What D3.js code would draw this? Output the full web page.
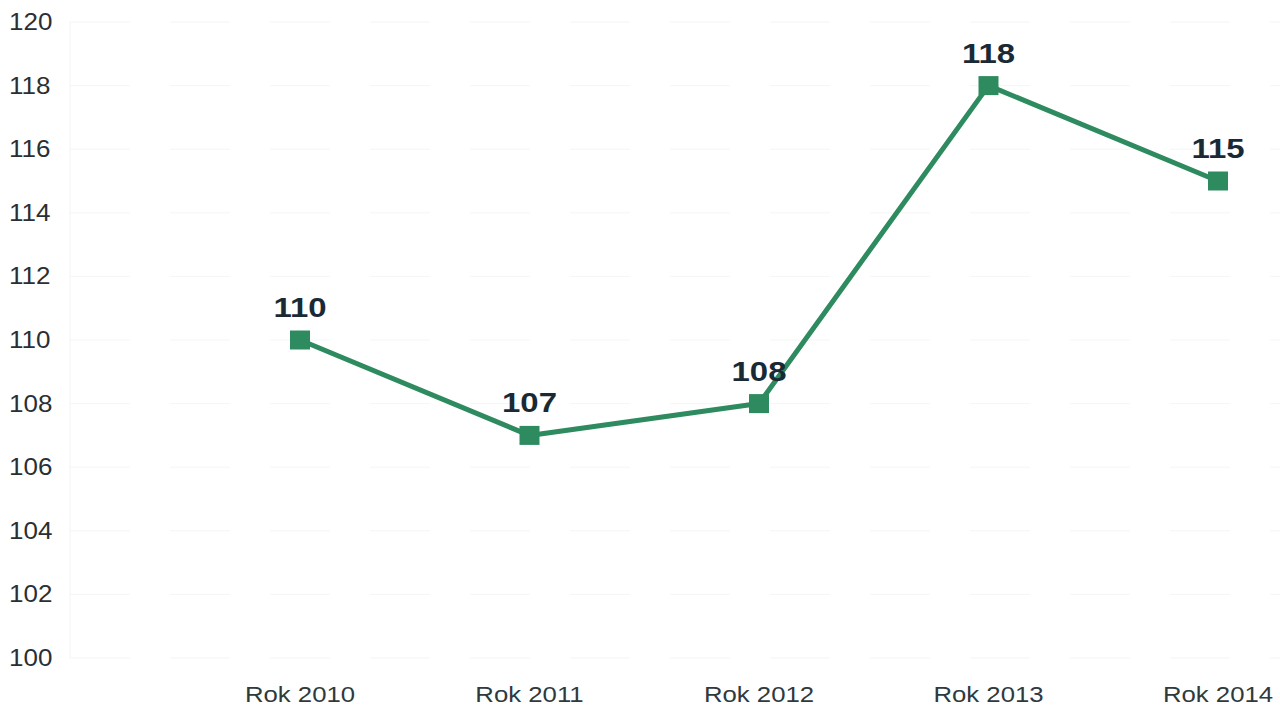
<!DOCTYPE html>
<html><head><meta charset="utf-8">
<script src="https://cdn.jsdelivr.net/npm/d3@7"></script>
<style>body{margin:0;background:#fff;}svg{display:block;font-family:"Liberation Sans",Arial,sans-serif;}</style>
</head><body>
<svg id="c" width="1280" height="708"></svg>
<script>
const categories = ["Rok 2010","Rok 2011","Rok 2012","Rok 2013","Rok 2014"];
const values = [110,107,108,118,115];
const yTicks = [100,102,104,106,108,110,112,114,116,118,120];

const svg = d3.select("#c");
const x = d3.scalePoint().domain(categories).range([300,1218]);
const y = d3.scaleLinear().domain([100,120]).range([658,22]);

// faint gridlines
svg.append("g").selectAll("line").data(yTicks).join("line")
  .attr("x1",70).attr("x2",1280)
  .attr("y1",d=>y(d)).attr("y2",d=>y(d))
  .attr("stroke","#f5f5f5").attr("stroke-width",1).attr("stroke-dasharray","60,40");
svg.append("line").attr("x1",70).attr("x2",70).attr("y1",y(120)).attr("y2",y(100))
  .attr("stroke","#f3f3f3").attr("stroke-width",1);

// y tick labels
svg.append("g").selectAll("text").data(yTicks).join("text")
  .attr("transform",d=>`translate(9,${y(d)}) scale(1.13,1)`).attr("dy","0.35em")
  .attr("font-size",23).attr("fill","#2a2f33").text(d=>d);

// x labels
svg.append("g").selectAll("text").data(categories).join("text")
  .attr("transform",d=>`translate(${x(d)},702) scale(1.12,1)`).attr("text-anchor","middle")
  .attr("font-size",23).attr("fill","#2f3a3d").text(d=>d);

const color = "#2e8a5f";
const line = d3.line().x((d,i)=>x(categories[i])).y(d=>y(d));
svg.append("path").datum(values).attr("d",line)
  .attr("fill","none").attr("stroke",color).attr("stroke-width",5).attr("stroke-linejoin","round");

svg.append("g").selectAll("rect").data(values).join("rect")
  .attr("x",(d,i)=>x(categories[i])-10).attr("y",d=>y(d)-9.5)
  .attr("width",20).attr("height",19).attr("fill",color);

svg.append("g").selectAll("text").data(values).join("text")
  .attr("transform",(d,i)=>`translate(${x(categories[i])},${y(d)-23}) scale(1.22,1)`)
  .attr("text-anchor","middle").attr("font-size",27).attr("font-weight","bold")
  .attr("fill","#1a2a35").text(d=>d);
</script>
</body></html>
